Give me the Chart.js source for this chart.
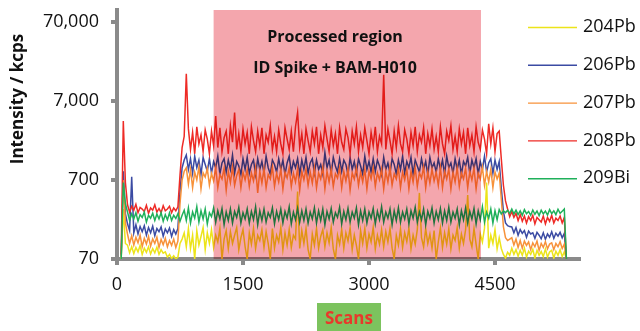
<!DOCTYPE html>
<html>
<head>
    <title>Pb isotope scans</title>
    <style>
        html, body { margin: 0; padding: 0; background: #fff; }
        #wrap { width: 640px; height: 331px; }
    </style>
</head>
<body>
    <div id="wrap"><canvas id="scan-chart"></canvas></div>

    <script src="https://cdn.jsdelivr.net/npm/chart.js"></script>
    <script>
        // sampling of the scan axis (every 25th scan from scan 50)
        const scanStart = 50;
        const scanStep = 25;

        const xTicks = [0, 1500, 3000, 4500];
        const yTicks = [70, 700, 7000, 70000];
        const processedFrom = 1150;
        const processedTo = 4333;

        const pb204 = [
            70, 300, 110,
            105, 84, 100, 82, 98, 86, 104, 80, 96, 85, 100, 81, 95, 84, 99, 80, 92, 83, 86, 74, 80, 71, 77, 70, 74,
            110, 125,
            150, 100, 170, 95, 140, 70, 160, 105, 135, 175, 92, 150, 110, 165, 98,
            140, 115, 170, 70, 125, 160, 95, 155, 110, 140, 175, 92, 130, 165, 100,
            70, 150, 108, 170, 95, 140, 120, 165, 98, 155, 110, 70, 170, 96, 140,
            115, 175, 92, 150, 105, 165, 98, 140, 125, 500, 95, 160, 110, 170, 92,
            70, 145, 105, 170, 96, 135, 165, 100, 150, 112, 175, 94, 70, 140, 108,
            165, 96, 150, 118, 172, 92, 140, 104, 70, 160, 110, 170, 96, 145, 115,
            175, 94, 140, 108, 165, 100, 155, 115, 170, 96, 70, 140, 105, 168, 98,
            150, 116, 172, 94, 140, 108, 165, 480, 130, 100, 170, 110, 145, 96, 160,
            70, 115, 172, 98, 150, 108, 168, 94, 140, 120, 175, 96, 145, 110, 165,
            450, 125, 100, 170, 108, 70, 145, 115, 172, 650, 96, 140, 110, 165, 94, 130,
            95, 80, 72, 85, 78,
            96, 80, 92, 76, 90, 78, 96, 74, 88, 80, 93, 72, 90, 78, 87, 75, 94, 74, 86, 90, 72, 88, 78, 92, 75, 86,
            70
        ];

        const pb206 = [
            75, 900, 260,
            195, 160, 770, 150, 190, 145, 180, 155, 185, 140, 175, 150, 182, 138, 170, 155, 178, 136, 168, 150, 172, 135, 165, 145, 170,
            500, 1000,
            1250, 1450, 950, 1300, 850, 1400, 1000, 1250, 820, 1350, 1100, 900, 1300, 850, 1200,
            1000, 1400, 830, 1150, 1300, 880, 1250, 950, 1450, 850, 1200, 1050, 820, 1300, 950,
            1350, 850, 1100, 1250, 820, 1300, 950, 1200, 850, 1400, 1000, 830, 1250, 1100, 880,
            1300, 950, 1250, 820, 1150, 1400, 880, 1200, 1000, 1300, 830, 1250, 950, 1350, 850,
            1150, 1300, 850, 1250, 950, 1100, 830, 1550, 1000, 1250, 850, 1350, 1050, 880, 1300,
            900, 1250, 1100, 820, 1350, 950, 1200, 850, 1300, 1050, 830, 1400, 950, 1200, 880,
            1300, 900, 1250, 1050, 820, 1350, 950, 1150, 850, 1300, 1100, 830, 1250, 950, 1400,
            850, 1200, 1000, 1350, 830, 1250, 1050, 880, 1300, 950, 1200, 820, 1350, 1000, 1150,
            880, 1300, 950, 1250, 830, 1400, 1000, 1150, 850, 1300, 950, 1250, 820, 1200, 1050,
            1350, 850, 1250, 1000, 1300, 830, 1200, 950, 1400, 880, 1150, 1300, 850, 1250, 950, 1200,
            550, 280, 200, 185, 180,
            178, 150, 175, 140, 165, 148, 160, 132, 158, 145, 150, 128, 152, 140, 126, 150, 124, 145, 132, 155, 128, 148, 136, 152, 130, 148,
            70
        ];

        const pb207 = [
            72, 700, 200,
            145, 110, 138, 105, 132, 112, 140, 100, 128, 108, 135, 102, 126, 110, 132, 98, 124, 106, 128, 100, 120, 104, 125, 98, 118,
            350, 700,
            900, 1000, 620, 950, 560, 880, 700, 1020, 540, 860, 760, 980, 600, 850, 680,
            1000, 560, 820, 720, 980, 520, 900, 650, 1020, 600, 800, 950, 560, 880, 700,
            940, 580, 860, 680, 1000, 480, 900, 640, 980, 560, 820, 720, 1020, 580, 850,
            660, 960, 540, 880, 740, 1000, 580, 850, 660, 980, 520, 900, 700, 960, 600,
            880, 640, 1000, 560, 860, 720, 1020, 540, 900, 660, 960, 580, 840, 740, 1000,
            560, 900, 680, 980, 520, 860, 720, 1000, 600, 880, 660, 960, 540, 900, 720,
            1000, 580, 860, 700, 960, 540, 900, 660, 1020, 600, 840, 720, 980, 560, 880,
            700, 960, 540, 900, 660, 1000, 580, 860, 740, 1020, 560, 900, 640, 960, 680,
            880, 600, 1000, 560, 900, 720, 960, 540, 880, 660, 1000, 580, 860, 720, 980,
            560, 900, 700, 980, 540, 860, 720, 1020, 600, 900, 660, 960, 560, 880, 720, 860,
            400, 180, 130, 120, 125,
            130, 105, 125, 98, 120, 96, 118, 104, 115, 92, 112, 100, 118, 90, 110, 98, 116, 94, 108, 112, 92, 110, 100, 116, 95, 108,
            70
        ];

        const pb208 = [
            80, 3900, 650,
            340, 275, 325, 290, 345, 270, 315, 300, 280, 335, 265, 310, 290, 340, 275, 305, 270, 330, 285, 300, 325, 270, 310, 285, 320,
            800, 1800,
            2500, 15400, 3100, 1700, 2800, 1500, 3300, 2000, 2600, 1600, 3000, 2300, 1500, 2900, 1900,
            4500, 1800, 3200, 1600, 2400, 2900, 1500, 3400, 2100, 5000, 1700, 2700, 1600, 3100, 2000,
            2800, 1500, 3300, 2200, 1600, 2900, 1900, 3200, 1500, 2600, 2100, 3400, 1700, 2500, 1600,
            3000, 2000, 1500, 3200, 2300, 1700, 2900, 1600, 3300, 5000, 1800, 2700, 1500, 3100, 2200,
            1600, 2900, 2000, 3300, 1500, 2600, 1800, 3400, 2300, 1600, 3000, 1900, 2700, 1500, 3200,
            2100, 1700, 3100, 2400, 1500, 2900, 2000, 3300, 1600, 2600, 1800, 3200, 2200, 1500, 2800,
            1900, 3300, 1600, 2500, 2000, 15000, 1700, 3100, 2200, 1500, 2900, 1800, 3400, 2000, 1600,
            3000, 2300, 1500, 2800, 1900, 3300, 1600, 2600, 2100, 3200, 1500, 2700, 1900, 3100, 1700,
            2500, 1600, 3300, 2000, 1500, 2900, 2200, 3400, 1700, 2500, 1600, 3100, 2000, 2800, 1500,
            3200, 1900, 2600, 1600, 3300, 2100, 1700, 3000, 2300, 1500, 3600, 2000, 3200, 1600, 2700, 2900,
            1300, 600, 380, 300, 240,
            280, 235, 265, 215, 255, 210, 245, 200, 240, 215, 250, 195, 235, 220, 205, 245, 195, 235, 210, 250, 200, 230, 215, 245, 200, 235,
            70
        ];

        const bi209 = [
            70, 650, 350,
            275, 215, 260, 225, 270, 210, 255, 235, 275, 205, 250, 230, 265, 215, 260, 225, 270, 210, 255, 220, 268, 215, 250, 228, 262,
            210, 250,
            290, 215, 310, 200, 275, 230, 320, 205, 285, 225, 300, 195, 270, 240, 310,
            205, 285, 225, 305, 190, 275, 215, 300, 200, 280, 235, 315, 200, 270, 225,
            300, 200, 280, 220, 320, 190, 285, 215, 300, 205, 270, 235, 310, 195, 280,
            220, 300, 200, 280, 230, 320, 195, 275, 220, 305, 205, 285, 215, 300, 200,
            275, 225, 310, 200, 285, 215, 300, 190, 280, 225, 305, 205, 270, 235, 315,
            195, 280, 220, 305, 205, 275, 230, 310, 190, 285, 215, 300, 200, 275, 230,
            305, 195, 280, 220, 320, 205, 275, 230, 300, 190, 285, 215, 310, 205, 275,
            225, 300, 195, 285, 230, 315, 205, 275, 220, 300, 190, 280, 230, 310, 200,
            280, 220, 305, 200, 285, 215, 315, 205, 275, 230, 300, 190, 285, 220, 310,
            200, 280, 225, 305, 195, 285, 220, 320, 205, 275, 230, 300, 200, 285, 220, 295,
            260, 285, 270, 290, 265,
            300, 260, 290, 255, 285, 250, 295, 262, 280, 250, 292, 258, 283, 248, 290, 260, 282, 252, 295, 262, 285, 255, 298, 265, 282, 300,
            70
        ];

        const seriesLabels = ["204Pb", "206Pb", "207Pb", "208Pb", "209Bi"];
        const seriesColors = ["#ece41a", "#3b4ba3", "#f7923a", "#ee2b26", "#1fb05a"];
        const seriesValues = [pb204, pb206, pb207, pb208, bi209];

        function toPoints(values) {
            return values.map((v, i) => ({ x: scanStart + i * scanStep, y: v }));
        }

        const axisGrey = "#8a8a8a";
        const tickFont = { family: "Open Sans", size: 18 };

        // pink box over the processed scans, with its caption
        const processedBox = {
            id: "processedBox",
            afterDatasetsDraw(chart) {
                const { ctx, chartArea, scales } = chart;
                const x1 = scales.x.getPixelForValue(processedFrom);
                const x2 = scales.x.getPixelForValue(processedTo);
                ctx.save();
                ctx.globalCompositeOperation = "multiply";
                ctx.fillStyle = "#f4a6ad";
                ctx.fillRect(x1, chartArea.top, x2 - x1, chartArea.bottom - chartArea.top);
                ctx.restore();

                ctx.save();
                ctx.fillStyle = "#111";
                ctx.font = "bold 16px 'Open Sans'";
                ctx.textAlign = "center";
                ctx.textBaseline = "middle";
                ctx.fillText("Processed region", 335, 37);
                ctx.fillText("ID Spike + BAM-H010", 335, 68);
                ctx.restore();
            }
        };

        // titles and legend placed like the original
        const decorations = {
            id: "decorations",
            afterDraw(chart) {
                const { ctx } = chart;
                ctx.save();
                ctx.translate(18, 99);
                ctx.rotate(-Math.PI / 2);
                ctx.fillStyle = "#111";
                ctx.font = "bold 17px 'Open Sans'";
                ctx.textAlign = "center";
                ctx.textBaseline = "middle";
                ctx.fillText("Intensity / kcps", 0, 0);
                ctx.restore();

                ctx.save();
                ctx.fillStyle = "#7cc35e";
                ctx.fillRect(317, 303, 64, 30);
                ctx.fillStyle = "#e8392b";
                ctx.font = "bold 17px 'Open Sans'";
                ctx.textAlign = "center";
                ctx.textBaseline = "middle";
                ctx.fillText("Scans", 349, 319);
                ctx.restore();

                ctx.save();
                ctx.font = "18px 'Open Sans'";
                ctx.textBaseline = "middle";
                chart.data.datasets.forEach((ds, i) => {
                    const y = 27 + i * 37.8;
                    ctx.strokeStyle = ds.borderColor;
                    ctx.lineWidth = 1.4;
                    ctx.beginPath();
                    ctx.moveTo(528, y + 0.5);
                    ctx.lineTo(577, y + 0.5);
                    ctx.stroke();
                    ctx.fillStyle = "#111";
                    ctx.fillText(ds.label, 583, y);
                });
                ctx.restore();
            }
        };

        const ctx = document.getElementById("scan-chart").getContext("2d");
        new Chart(ctx, {
            type: "line",
            data: {
                datasets: seriesLabels.map((label, i) => ({
                    label: label,
                    data: toPoints(seriesValues[i]),
                    borderColor: seriesColors[i],
                    borderWidth: 1.5,
                    pointRadius: 0,
                    tension: 0,
                    order: seriesLabels.length - i,
                })),
            },
            options: {
                responsive: true,
                maintainAspectRatio: false,
                animation: false,
                layout: { padding: { left: 0, right: 61, top: 10, bottom: 0 } },
                plugins: {
                    legend: { display: false },
                    tooltip: { enabled: false },
                },
                scales: {
                    x: {
                        type: "linear",
                        min: 0,
                        max: 5500,
                        bounds: "data",
                        afterBuildTicks: (scale) => {
                            scale.ticks = xTicks.map(v => ({ value: v }));
                        },
                        afterFit: (scale) => {
                            scale.height = 72;
                            scale.paddingLeft = 0;
                            scale.paddingRight = 0;
                        },
                        border: { display: true, color: axisGrey, width: 4 },
                        grid: {
                            drawOnChartArea: false,
                            drawTicks: true,
                            tickLength: 6,
                            lineWidth: 4,
                            color: axisGrey,
                        },
                        ticks: {
                            font: tickFont,
                            color: "#111",
                            padding: 9,
                            maxRotation: 0,
                            callback: (v) => String(v),
                        },
                    },
                    y: {
                        type: "logarithmic",
                        min: 70,
                        max: 99000,
                        bounds: "data",
                        afterBuildTicks: (scale) => {
                            scale.ticks = yTicks.map(v => ({ value: v }));
                        },
                        afterFit: (scale) => {
                            scale.width = 117;
                            scale.paddingTop = 0;
                            scale.paddingBottom = 0;
                        },
                        border: { display: true, color: axisGrey, width: 4 },
                        grid: {
                            drawOnChartArea: false,
                            drawTicks: true,
                            tickLength: 6,
                            lineWidth: 4,
                            color: axisGrey,
                        },
                        ticks: {
                            font: tickFont,
                            color: "#111",
                            padding: 12,
                            callback: (v) => Number(v).toLocaleString("en-US"),
                        },
                    },
                },
            },
            plugins: [processedBox, decorations],
        });
    </script>
</body>
</html>
